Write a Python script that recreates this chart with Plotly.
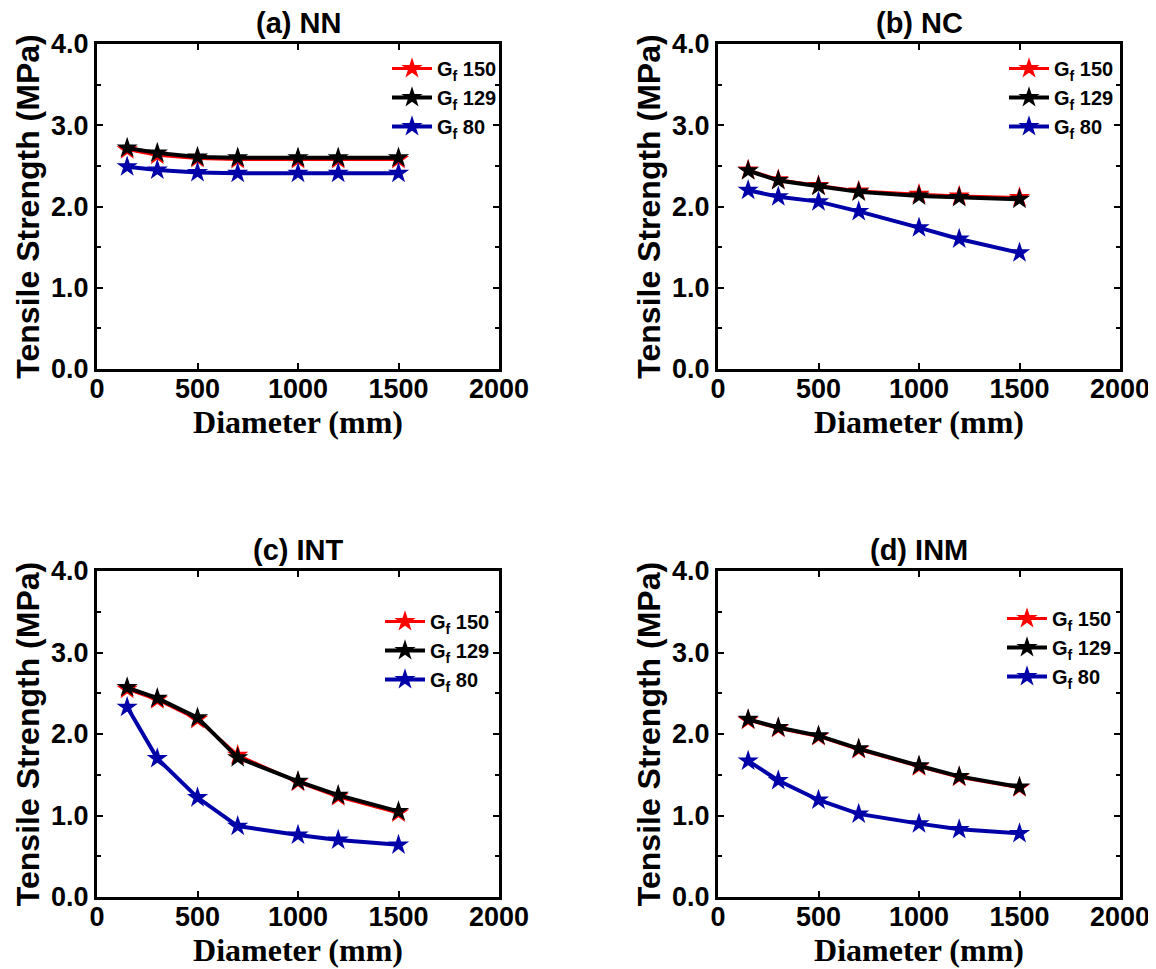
import plotly.graph_objects as go

diameter = [150, 300, 500, 700, 1000, 1200, 1500]

panel_titles = ["(a) NN", "(b) NC", "(c) INT", "(d) INM"]
series_names = ["G<sub>f</sub> 150", "G<sub>f</sub> 129", "G<sub>f</sub> 80"]

nn_gf150 = [2.70, 2.63, 2.59, 2.58, 2.58, 2.58, 2.58]
nn_gf129 = [2.72, 2.66, 2.61, 2.60, 2.60, 2.60, 2.60]
nn_gf80 = [2.49, 2.45, 2.42, 2.41, 2.41, 2.41, 2.41]

nc_gf150 = [2.45, 2.33, 2.26, 2.19, 2.15, 2.13, 2.11]
nc_gf129 = [2.44, 2.32, 2.25, 2.18, 2.13, 2.11, 2.09]
nc_gf80 = [2.20, 2.12, 2.06, 1.94, 1.74, 1.60, 1.43]

int_gf150 = [2.55, 2.42, 2.18, 1.74, 1.41, 1.23, 1.03]
int_gf129 = [2.57, 2.44, 2.20, 1.71, 1.42, 1.25, 1.05]
int_gf80 = [2.33, 1.70, 1.22, 0.87, 0.76, 0.70, 0.64]

inm_gf150 = [2.17, 2.07, 1.97, 1.81, 1.60, 1.47, 1.34]
inm_gf129 = [2.18, 2.08, 1.98, 1.82, 1.61, 1.48, 1.35]
inm_gf80 = [1.67, 1.43, 1.19, 1.02, 0.90, 0.83, 0.78]

panels = [
    (nn_gf150, nn_gf129, nn_gf80),
    (nc_gf150, nc_gf129, nc_gf80),
    (int_gf150, int_gf129, int_gf80),
    (inm_gf150, inm_gf129, inm_gf80),
]

W, H = 1156, 969
OFF = 8  # page body margin offset
colors = ["#ff0000", "#000000", "#0000a8"]
widths = [3, 4, 4]

# plot-area boxes in page pixels (left, right, top, bottom)
boxes = [(97, 499, 44, 369), (718, 1120, 44, 369), (97, 499, 571, 897), (718, 1120, 571, 897)]
# legend top-left in page pixels
legend_pos = [(387, 49), (1004, 49), (380, 602), (1002, 599)]

SANS = "Arial, 'Liberation Sans', sans-serif"
SERIF = "'Times New Roman', 'Liberation Serif', serif"


def px_x(p):
    return (p - OFF) / W


def px_y(p):
    return 1 - (p - OFF) / H


fig = go.Figure()
layout = {}
annotations = []
for i, (vals, (l, r, t, b), (lx, ly)) in enumerate(zip(panels, boxes, legend_pos)):
    n = i + 1
    xa = "x" if n == 1 else f"x{n}"
    ya = "y" if n == 1 else f"y{n}"
    lg = "legend" if n == 1 else f"legend{n}"
    for k, (name, ys) in enumerate(zip(series_names, vals)):
        fig.add_trace(go.Scatter(
            x=diameter, y=ys, name=name, mode="lines+markers",
            xaxis=xa, yaxis=ya, legend=lg, legendgroup=f"{n}-{k}",
            line=dict(color=colors[k], width=widths[k]),
            marker=dict(symbol="star", size=16, color=colors[k]),
        ))
    xdom = [px_x(l), px_x(r)]
    ydom = [px_y(b), px_y(t)]
    axcommon = dict(showline=True, linewidth=3, linecolor="black", mirror="allticks",
                    ticks="inside", ticklen=6, tickwidth=2, tickcolor="black",
                    showgrid=False, zeroline=False, automargin=False,
                    tickfont=dict(family=SANS, size=27, color="black", weight="bold"))
    layout["xaxis" if n == 1 else f"xaxis{n}"] = dict(
        domain=xdom, range=[0, 2000], tickvals=[0, 500, 1000, 1500, 2000],
        anchor=ya, ticklabelstandoff=-6,
        title=dict(text="<b>Diameter (mm)</b>", font=dict(family=SERIF, size=32, color="black"), standoff=0),
        **axcommon)
    layout["yaxis" if n == 1 else f"yaxis{n}"] = dict(
        domain=ydom, range=[0, 4], tickvals=[0, 1, 2, 3, 4], tickformat=".1f",
        anchor=xa,
        minor=dict(ticks="inside", ticklen=4, tickwidth=2, tickcolor="black", dtick=0.5),
        title=dict(text="<b>Tensile Strength (MPa)</b>", font=dict(family=SANS, size=32, color="black"), standoff=2),
        **axcommon)
    layout[lg] = dict(x=px_x(lx), y=px_y(ly), xanchor="left", yanchor="top",
                      bgcolor="rgba(0,0,0,0)", borderwidth=0, itemwidth=40,
                      tracegroupgap=0,
                      font=dict(family=SANS, size=20, color="black", weight="bold"))
    annotations.append(dict(text=f"<b>{panel_titles[i]}</b>", x=px_x((l + r) / 2), y=px_y(t - 3),
                            xref="paper", yref="paper", xanchor="center", yanchor="bottom",
                            showarrow=False, font=dict(family=SANS, size=29, color="black")))

fig.update_layout(**layout)
fig.update_layout(width=W, height=H, margin=dict(l=0, r=0, t=0, b=0, autoexpand=False),
                  paper_bgcolor="white", plot_bgcolor="white",
                  annotations=annotations)
fig.write_html("out.html")
